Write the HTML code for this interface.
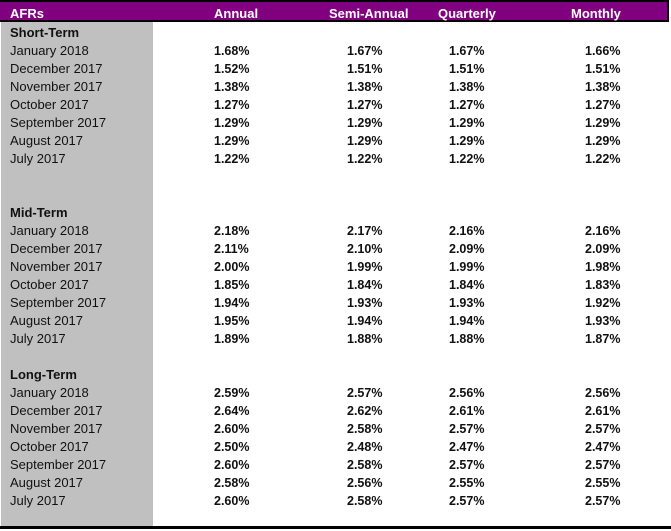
<!DOCTYPE html>
<html>
<head>
<meta charset="utf-8">
<style>
html,body{margin:0;padding:0;background:#fff;}
body{width:671px;height:531px;position:relative;overflow:hidden;font-family:"Liberation Sans",Arial,sans-serif;color:#111;}
.topline{position:absolute;left:0;top:0;width:669px;height:2px;background:#000;}
.hdr{position:absolute;left:0;top:2px;width:668px;height:18px;background:#800080;}
.hdrline{position:absolute;left:0;top:20px;width:669px;height:2px;background:#000;}
.rightline{position:absolute;left:667px;top:0;width:2px;height:22px;background:#000;}
.gray{position:absolute;left:1px;top:22px;width:152px;height:504px;background:#c0c0c0;}
.botline{position:absolute;left:0;top:526px;width:671px;height:3px;background:#000;}
.h{position:absolute;top:3px;height:18px;line-height:21px;font-weight:bold;font-size:13px;color:#fff;white-space:nowrap;}
.r{position:absolute;left:0;width:668px;height:18px;line-height:20px;font-size:13px;}
.r span{position:absolute;top:0;white-space:nowrap;}
.l{left:10px;}
.b{font-weight:bold;}
.v{font-weight:bold;font-size:12.5px;}
.c1{left:214px;}.c2{left:347px;}.c3{left:449px;}.c4{left:585px;}
</style>
</head>
<body>
<div class="gray"></div>
<div class="topline"></div>
<div class="hdr"></div>
<div class="hdrline"></div>
<div class="rightline"></div>
<div class="h" style="left:10px">AFRs</div>
<div class="h" style="left:214px">Annual</div>
<div class="h" style="left:329px">Semi-Annual</div>
<div class="h" style="left:438px">Quarterly</div>
<div class="h" style="left:571px">Monthly</div>

<div class="r" style="top:23px"><span class="l b">Short-Term</span></div>
<div class="r" style="top:41px"><span class="l">January 2018</span><span class="v c1">1.68%</span><span class="v c2">1.67%</span><span class="v c3">1.67%</span><span class="v c4">1.66%</span></div>
<div class="r" style="top:59px"><span class="l">December 2017</span><span class="v c1">1.52%</span><span class="v c2">1.51%</span><span class="v c3">1.51%</span><span class="v c4">1.51%</span></div>
<div class="r" style="top:77px"><span class="l">November 2017</span><span class="v c1">1.38%</span><span class="v c2">1.38%</span><span class="v c3">1.38%</span><span class="v c4">1.38%</span></div>
<div class="r" style="top:95px"><span class="l">October 2017</span><span class="v c1">1.27%</span><span class="v c2">1.27%</span><span class="v c3">1.27%</span><span class="v c4">1.27%</span></div>
<div class="r" style="top:113px"><span class="l">September 2017</span><span class="v c1">1.29%</span><span class="v c2">1.29%</span><span class="v c3">1.29%</span><span class="v c4">1.29%</span></div>
<div class="r" style="top:131px"><span class="l">August 2017</span><span class="v c1">1.29%</span><span class="v c2">1.29%</span><span class="v c3">1.29%</span><span class="v c4">1.29%</span></div>
<div class="r" style="top:149px"><span class="l">July 2017</span><span class="v c1">1.22%</span><span class="v c2">1.22%</span><span class="v c3">1.22%</span><span class="v c4">1.22%</span></div>

<div class="r" style="top:203px"><span class="l b">Mid-Term</span></div>
<div class="r" style="top:221px"><span class="l">January 2018</span><span class="v c1">2.18%</span><span class="v c2">2.17%</span><span class="v c3">2.16%</span><span class="v c4">2.16%</span></div>
<div class="r" style="top:239px"><span class="l">December 2017</span><span class="v c1">2.11%</span><span class="v c2">2.10%</span><span class="v c3">2.09%</span><span class="v c4">2.09%</span></div>
<div class="r" style="top:257px"><span class="l">November 2017</span><span class="v c1">2.00%</span><span class="v c2">1.99%</span><span class="v c3">1.99%</span><span class="v c4">1.98%</span></div>
<div class="r" style="top:275px"><span class="l">October 2017</span><span class="v c1">1.85%</span><span class="v c2">1.84%</span><span class="v c3">1.84%</span><span class="v c4">1.83%</span></div>
<div class="r" style="top:293px"><span class="l">September 2017</span><span class="v c1">1.94%</span><span class="v c2">1.93%</span><span class="v c3">1.93%</span><span class="v c4">1.92%</span></div>
<div class="r" style="top:311px"><span class="l">August 2017</span><span class="v c1">1.95%</span><span class="v c2">1.94%</span><span class="v c3">1.94%</span><span class="v c4">1.93%</span></div>
<div class="r" style="top:329px"><span class="l">July 2017</span><span class="v c1">1.89%</span><span class="v c2">1.88%</span><span class="v c3">1.88%</span><span class="v c4">1.87%</span></div>

<div class="r" style="top:365px"><span class="l b">Long-Term</span></div>
<div class="r" style="top:383px"><span class="l">January 2018</span><span class="v c1">2.59%</span><span class="v c2">2.57%</span><span class="v c3">2.56%</span><span class="v c4">2.56%</span></div>
<div class="r" style="top:401px"><span class="l">December 2017</span><span class="v c1">2.64%</span><span class="v c2">2.62%</span><span class="v c3">2.61%</span><span class="v c4">2.61%</span></div>
<div class="r" style="top:419px"><span class="l">November 2017</span><span class="v c1">2.60%</span><span class="v c2">2.58%</span><span class="v c3">2.57%</span><span class="v c4">2.57%</span></div>
<div class="r" style="top:437px"><span class="l">October 2017</span><span class="v c1">2.50%</span><span class="v c2">2.48%</span><span class="v c3">2.47%</span><span class="v c4">2.47%</span></div>
<div class="r" style="top:455px"><span class="l">September 2017</span><span class="v c1">2.60%</span><span class="v c2">2.58%</span><span class="v c3">2.57%</span><span class="v c4">2.57%</span></div>
<div class="r" style="top:473px"><span class="l">August 2017</span><span class="v c1">2.58%</span><span class="v c2">2.56%</span><span class="v c3">2.55%</span><span class="v c4">2.55%</span></div>
<div class="r" style="top:491px"><span class="l">July 2017</span><span class="v c1">2.60%</span><span class="v c2">2.58%</span><span class="v c3">2.57%</span><span class="v c4">2.57%</span></div>

<div class="botline"></div>
</body>
</html>
